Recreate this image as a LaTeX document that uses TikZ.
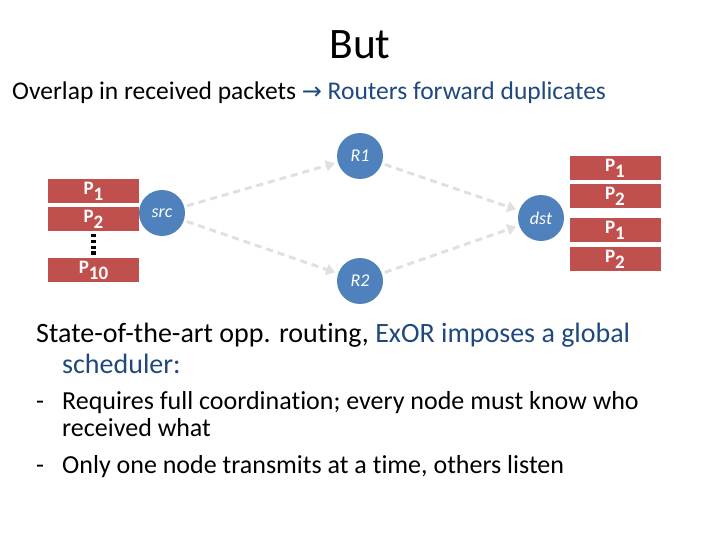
\documentclass[tikz,border=0pt]{standalone}
\usepackage{fontspec}
\setmainfont{Carlito}[Ligatures=NoCommon]
\newfontfamily\symfont{DejaVu Sans}
\usepackage{tikz}
\usetikzlibrary{arrows.meta,positioning}
\definecolor{pkt}{RGB}{192,80,77}
\definecolor{nodeblue}{RGB}{79,129,189}
\definecolor{linkgrey}{RGB}{224,224,224}
\definecolor{emph}{RGB}{31,73,125}
\tikzset{
  router/.style={circle,fill=nodeblue,minimum size=46pt,inner sep=0pt,text=white,font=\fontsize{18}{18}\selectfont\itshape},
  packet/.style={fill=pkt,minimum width=91pt,minimum height=24pt,inner sep=0pt,text=white,font=\fontsize{19}{19}\selectfont\bfseries},
  link/.style={-{Triangle[length=9pt,width=11pt]},linkgrey,line width=3pt,dash pattern=on 7pt off 5pt,shorten <=3pt,shorten >=3pt},
  txt/.style={anchor=base west,inner sep=0pt,font=\fontsize{26}{30}\selectfont},
}
\newcommand{\pk}[1]{P\raisebox{-6pt}{#1}}

\begin{document}
\begin{tikzpicture}[x=1pt,y=-1pt]
  \useasboundingbox (0,0) rectangle (720,540);
  % headline
  \node[anchor=base,inner sep=0pt,font=\fontsize{43.5}{46}\selectfont] (title) at (360,59) {But};
  \node[txt,font=\fontsize{25.5}{28}\selectfont] (overlap) at (12,100)
     {Overlap in received packets \textcolor{emph}{{\symfont\fontsize{24}{24}\selectfont →} Routers forward duplicates}};
  % network
  \node[router] (src) at (162,213) {src};
  \node[router] (r1) at (360,156) {R1};
  \node[router] (r2) at (360,281) {R2};
  \node[router] (dst) at (541,218) {dst};
  \draw[link] (src) -- (r1);
  \draw[link] (src) -- (r2);
  \draw[link] (r1) -- (dst);
  \draw[link] (r2) -- (dst);
  % packets at the source
  \node[packet] (sp1) at (93.5,191) {\pk{1}};
  \node[packet] (sp2) at (93.5,219) {\pk{2}};
  \node[packet] (sp10) at (93.5,270) {\pk{10}};
  \foreach \y in {233.5,239.5,245.5,251}
    \fill[black] (91,\y) rectangle ++(4.5,3.5);
  % packets at the destination
  \node[packet] (dp1) at (615,168) {\pk{1}};
  \node[packet] (dp2) at (615,196) {\pk{2}};
  \node[packet] (dp3) at (615,230) {\pk{1}};
  \node[packet] (dp4) at (615,259) {\pk{2}};
  % bullets
  \node[txt,font=\fontsize{28}{32}\selectfont] (state) at (36,342)
     {State-of-the-art opp. routing, \textcolor{emph}{ExOR imposes a global}};
  \node[txt,font=\fontsize{28}{32}\selectfont,text=emph] (sched) at (62,373) {scheduler:};
  \node[txt] (d1) at (36,409) {-};
  \node[txt] (req) at (62,409) {Requires full coordination; every node must know who};
  \node[txt] (req2) at (62,436) {received what};
  \node[txt] (d2) at (36,473) {-};
  \node[txt] (only) at (62,473) {Only one node transmits at a time, others listen};
\end{tikzpicture}
\end{document}
